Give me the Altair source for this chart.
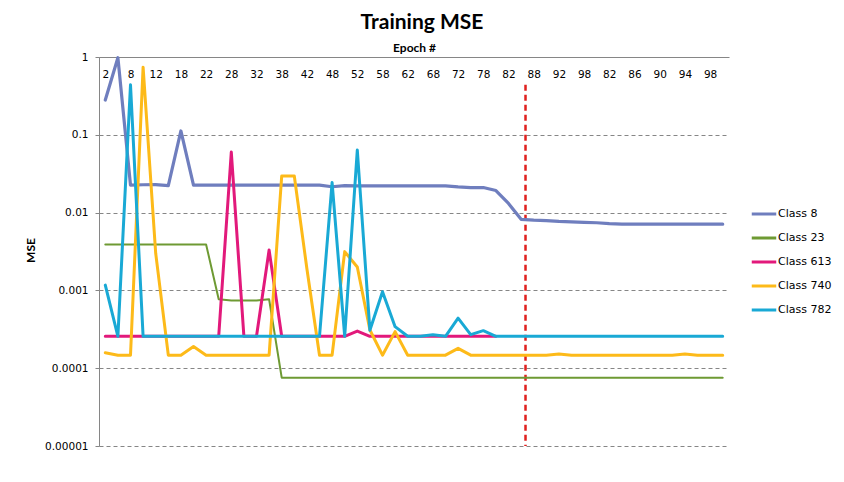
import altair as alt
import pandas as pd

# ---------------- data ----------------
epoch_labels = ["2", "8", "12", "18", "22", "28", "32", "38", "42", "48", "52", "58", "62",
                "68", "72", "78", "82", "88", "92", "98", "82", "86", "90", "94", "98"]

series_names = ["Class 8", "Class 23", "Class 613", "Class 740", "Class 782"]
series_colors = ["#6F7EBE", "#6E9A33", "#E2197B", "#FDBA19", "#19A9D5"]

y_tick_values = [1, 0.1, 0.01, 0.001, 0.0001, 0.00001]
y_tick_labels = ["1", "0.1", "0.01", "0.001", "0.0001", "0.00001"]

class_8 = [0.28, 0.98, 0.0226, 0.0228, 0.0229, 0.0222, 0.112, 0.0225, 0.0225, 0.0225,
           0.0225, 0.0225, 0.0225, 0.0225, 0.0225, 0.0225, 0.0225, 0.0225, 0.0215, 0.0222,
           0.0220, 0.0220, 0.0220, 0.0220, 0.0220, 0.0220, 0.0220, 0.0220, 0.0214, 0.0210,
           0.0210, 0.0192, 0.0131, 0.0082, 0.0080, 0.0079, 0.0077, 0.0076, 0.0075, 0.0074,
           0.0072, 0.0071, 0.0071, 0.0071, 0.0071, 0.0071, 0.0071, 0.0071, 0.0071, 0.0071]

class_23 = [0.0039, 0.0039, 0.0039, 0.0039, 0.0039, 0.0039, 0.0039, 0.0039, 0.0039, 0.00077,
            0.00074, 0.00074, 0.00074, 0.00077, 0.0000755, 0.0000755, 0.0000755, 0.0000755, 0.0000755, 0.0000755,
            0.0000755, 0.0000755, 0.0000755, 0.0000755, 0.0000755, 0.0000755, 0.0000755, 0.0000755, 0.0000755, 0.0000755,
            0.0000755, 0.0000755, 0.0000755, 0.0000755, 0.0000755, 0.0000755, 0.0000755, 0.0000755, 0.0000755, 0.0000755,
            0.0000755, 0.0000755, 0.0000755, 0.0000755, 0.0000755, 0.0000755, 0.0000755, 0.0000755, 0.0000755, 0.0000755]

class_613 = [0.000257, 0.000257, 0.000257, 0.000257, 0.000257, 0.000257, 0.000257, 0.000257, 0.000257, 0.000257,
             0.060, 0.000257, 0.000257, 0.0033, 0.000257, 0.000257, 0.000257, 0.000257, 0.000257, 0.000257,
             0.00030, 0.000257, 0.000257, 0.000257, 0.000257, 0.000257, 0.000257, 0.000257, 0.000257, 0.000257,
             0.000257, 0.000257]

class_740 = [0.000158, 0.000147, 0.000147, 0.74, 0.003, 0.000147, 0.000147, 0.00019, 0.000147, 0.000147,
             0.000147, 0.000147, 0.000147, 0.000147, 0.0295, 0.0295, 0.0019, 0.000147, 0.000147, 0.00315,
             0.0020, 0.00031, 0.000147, 0.000295, 0.000147, 0.000147, 0.000147, 0.000147, 0.00018, 0.000147,
             0.000147, 0.000147, 0.000147, 0.000147, 0.000147, 0.000147, 0.000152, 0.000147, 0.000147, 0.000147,
             0.000147, 0.000147, 0.000147, 0.000147, 0.000147, 0.000147, 0.000152, 0.000147, 0.000147, 0.000147]

class_782 = [0.00117, 0.000257, 0.44, 0.000257, 0.000257, 0.000257, 0.000257, 0.000257, 0.000257, 0.000257,
             0.000257, 0.000257, 0.000257, 0.000257, 0.000257, 0.000257, 0.000257, 0.000257, 0.0243, 0.000257,
             0.0638, 0.000307, 0.00096, 0.000342, 0.000257, 0.000257, 0.00027, 0.000257, 0.00044, 0.00027,
             0.000304, 0.000257, 0.000257, 0.000257, 0.000257, 0.000257, 0.000257, 0.000257, 0.000257, 0.000257,
             0.000257, 0.000257, 0.000257, 0.000257, 0.000257, 0.000257, 0.000257, 0.000257, 0.000257, 0.000257]

# red dashed marker (position on the epoch index scale, top value on the MSE scale)
marker_index = [33.35]
marker_top = [0.44]
marker_bottom = [0.00001]

series_values = [class_8, class_23, class_613, class_740, class_782]
series_widths = [3.2, 2.0, 3.0, 3.0, 3.0]

# ---------------- chart ----------------
x_label_expr = "[" + ",".join("'" + s + "'" for s in epoch_labels) + "][round(datum.value / 2)]"
y_label_expr = "[" + ",".join("'" + s + "'" for s in y_tick_labels) + "][round(-log(datum.value) / LN10)]"

x_axis = alt.Axis(
    orient="top", values=list(range(0, 2 * len(epoch_labels), 2)), labelExpr=x_label_expr,
    title="Epoch  #", ticks=False, grid=False, domainColor="#868686", domainWidth=1,
    labelPadding=-22, labelFlush=False, labelOverlap=False, labelBound=False,
    labelFont="DejaVu Sans", labelFontSize=10.5, labelColor="#000000",
    titleFont="Lato", titleFontSize=12, titleFontWeight="bold", titleColor="#000000",
    titlePadding=3,
)
x_scale = alt.Scale(domain=[-0.5, 49.5], nice=False, zero=False)

y_axis = alt.Axis(
    values=y_tick_values, labelExpr=y_label_expr, title="MSE", tickSize=4,
    tickColor="#868686", domainColor="#868686", gridColor="#868686", gridDash=[4, 3],
    gridWidth=1, labelPadding=7, labelFont="DejaVu Sans", labelFontSize=10.5,
    labelColor="#000000", labelOverlap=False, titleFont="Lato", titleFontSize=12,
    titleFontWeight="bold", titleColor="#000000", titleX=-69, titleY=193,
    titleAlign="center", titleBaseline="middle",
)
y_scale = alt.Scale(type="log", domain=[0.00001, 1], nice=False)

color_enc = alt.Color(
    "series:N",
    scale=alt.Scale(domain=series_names, range=series_colors),
    legend=alt.Legend(
        title=None, orient="none", legendX=651, legendY=143, symbolType="stroke",
        symbolSize=600, symbolStrokeWidth=3, labelFont="DejaVu Sans", labelFontSize=11,
        labelColor="#000000", rowPadding=4, padding=0, labelOffset=0,
    ),
)

layers = []
for name, vals, w in zip(series_names, series_values, series_widths):
    df = pd.DataFrame({"idx": list(range(len(vals))), "mse": vals, "series": name})
    layers.append(
        alt.Chart(df).mark_line(strokeWidth=w, strokeJoin="round", strokeCap="round")
        .encode(
            x=alt.X("idx:Q", scale=x_scale, axis=x_axis),
            y=alt.Y("mse:Q", scale=y_scale, axis=y_axis),
            color=color_enc,
        )
    )

marker_df = pd.DataFrame({"idx": marker_index, "mse": marker_top, "mse2": marker_bottom})
marker = alt.Chart(marker_df).mark_rule(color="#E0201E", strokeWidth=2.5, strokeDash=[6, 4]).encode(
    x=alt.X("idx:Q", scale=x_scale, axis=x_axis),
    y=alt.Y("mse:Q", scale=y_scale, axis=y_axis),
    y2="mse2:Q",
)

chart = alt.layer(marker, *layers).properties(
    width=630,
    height=389,
    padding={"left": 91, "top": 49, "right": 107, "bottom": 28},
    autosize=alt.AutoSizeParams(type="none"),
    background="white",
    title=alt.TitleParams(
        text="Training MSE", font="Lato", fontSize=21, fontWeight="bold",
        color="#000000", anchor="middle", dx=8, offset=8,
    ),
).configure_view(stroke=None)

chart.save("out.html", embed_options={"renderer": "svg", "actions": False})
